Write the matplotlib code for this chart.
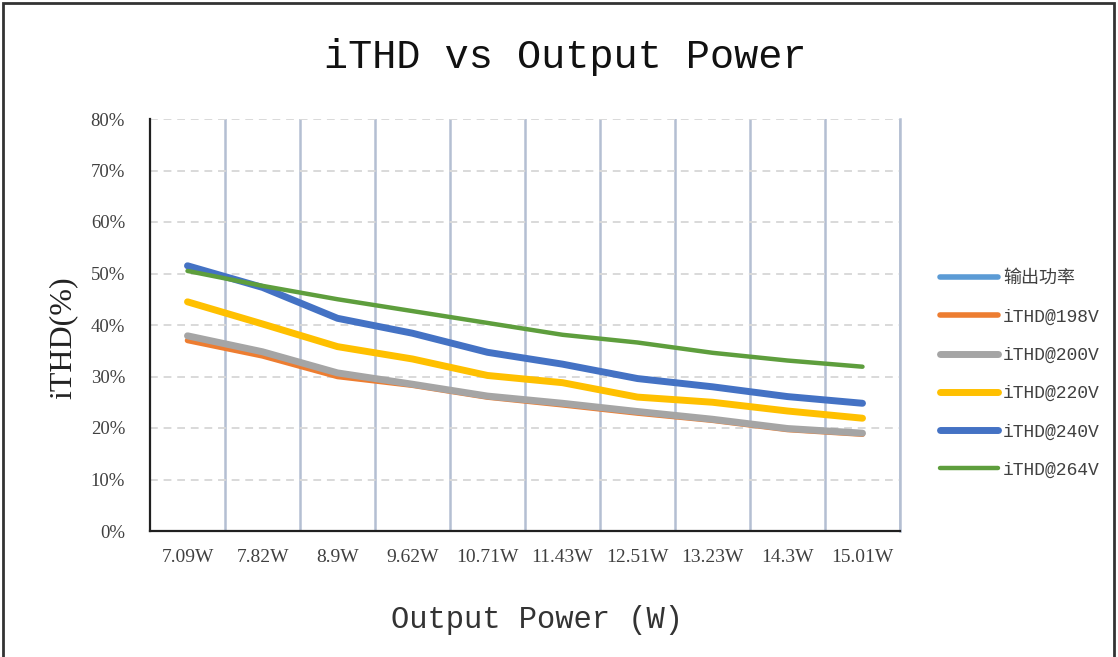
import matplotlib
matplotlib.use("Agg")
import matplotlib.pyplot as plt
from matplotlib.patches import Rectangle
from matplotlib.ticker import FuncFormatter, FixedLocator

# category labels (output power) and iTHD readings, fractions of 1
power_labels = ["7.09W", "7.82W", "8.9W", "9.62W", "10.71W",
                "11.43W", "12.51W", "13.23W", "14.3W", "15.01W"]
power_w = [7.09, 7.82, 8.9, 9.62, 10.71, 11.43, 12.51, 13.23, 14.3, 15.01]

ithd_198 = [0.370, 0.340, 0.300, 0.283, 0.260, 0.245, 0.229, 0.215, 0.197, 0.188]
ithd_200 = [0.379, 0.348, 0.307, 0.285, 0.262, 0.248, 0.232, 0.217, 0.199, 0.190]
ithd_220 = [0.445, 0.402, 0.358, 0.334, 0.302, 0.288, 0.260, 0.250, 0.233, 0.219]
ithd_240 = [0.515, 0.473, 0.413, 0.384, 0.347, 0.324, 0.296, 0.280, 0.261, 0.248]
ithd_264 = [0.505, 0.476, 0.450, 0.427, 0.404, 0.381, 0.366, 0.346, 0.331, 0.319]

y_ticks = [0, 0.1, 0.2, 0.3, 0.4, 0.5, 0.6, 0.7, 0.8]

mono = "Liberation Mono"
serif = "Liberation Serif"

fig = plt.figure(figsize=(11.18, 6.57), dpi=100)
ax = fig.add_axes([150 / 1118, 1 - 531 / 657, 750 / 1118, 412 / 657])

x = list(range(len(power_labels)))

# "输出功率" is plotted as raw watts on the percent axis, so it runs off the top
series = [
    ("输出功率", power_w, "#5B9BD5", 4.0),
    ("iTHD@198V", ithd_198, "#ED7D31", 4.0),
    ("iTHD@200V", ithd_200, "#A5A5A5", 5.0),
    ("iTHD@220V", ithd_220, "#FFC000", 5.0),
    ("iTHD@240V", ithd_240, "#4472C4", 5.0),
    ("iTHD@264V", ithd_264, "#5E9E3D", 3.2),
]
for name, vals, color, lw in series:
    ax.plot(x, vals, color=color, lw=lw, label=name,
            solid_capstyle="round", solid_joinstyle="round")

ax.set_xlim(-0.5, len(x) - 0.5)
ax.set_ylim(0, 0.8)

ax.set_xticks(x)
ax.set_xticklabels(power_labels, fontfamily=serif, fontsize=14, color="#404040")
ax.xaxis.set_minor_locator(FixedLocator([i + 0.5 for i in x]))
ax.grid(which="minor", axis="x", color="#B4BFD2", lw=1.8)
ax.tick_params(axis="x", which="both", length=0, pad=13)

ax.set_yticks(y_ticks)
ax.yaxis.set_major_formatter(FuncFormatter(lambda v, p: f"{v * 100:.0f}%"))
for lab in ax.get_yticklabels():
    lab.set_fontfamily(serif)
ax.tick_params(axis="y", length=0, pad=18, labelsize=13.5, labelcolor="#404040")
ax.grid(which="major", axis="y", color="#D9D9D9", lw=1.4, ls=(0, (4, 3)))
ax.set_axisbelow(True)

ax.spines["top"].set_visible(False)
ax.spines["right"].set_color("#B4BFD2")
ax.spines["right"].set_linewidth(1.8)
ax.spines["left"].set_color("#202020")
ax.spines["bottom"].set_color("#202020")
ax.spines["left"].set_linewidth(1.6)
ax.spines["bottom"].set_linewidth(1.6)

ax.set_ylabel("iTHD(%)", fontfamily=serif, fontsize=23, color="#222222")
ax.yaxis.set_label_coords(-0.097, 0.47)

fig.text(565 / 1118, 1 - 57 / 657, "iTHD vs Output Power", fontfamily=mono,
         fontsize=29, ha="center", va="center", color="#111111")
fig.text(537 / 1118, 1 - 620 / 657, "Output Power (W)", fontfamily=mono,
         fontsize=22, ha="center", va="center", color="#333333")

fig.legend(loc="center left", bbox_to_anchor=(940 / 1118, 1 - 374.5 / 657),
           frameon=False, borderaxespad=0, borderpad=0,
           handlelength=3.2, handletextpad=0.3, labelspacing=1.18,
           prop={"family": [mono, "Noto Sans CJK SC"], "size": 13},
           labelcolor="#404040")

# outer chart border
fig.add_artist(Rectangle((3 / 1118, -0.05), 1111 / 1118, 1.05 - 3 / 657,
                         transform=fig.transFigure, fill=False,
                         edgecolor="#333333", lw=2))

fig.savefig("out.png", dpi=100)
